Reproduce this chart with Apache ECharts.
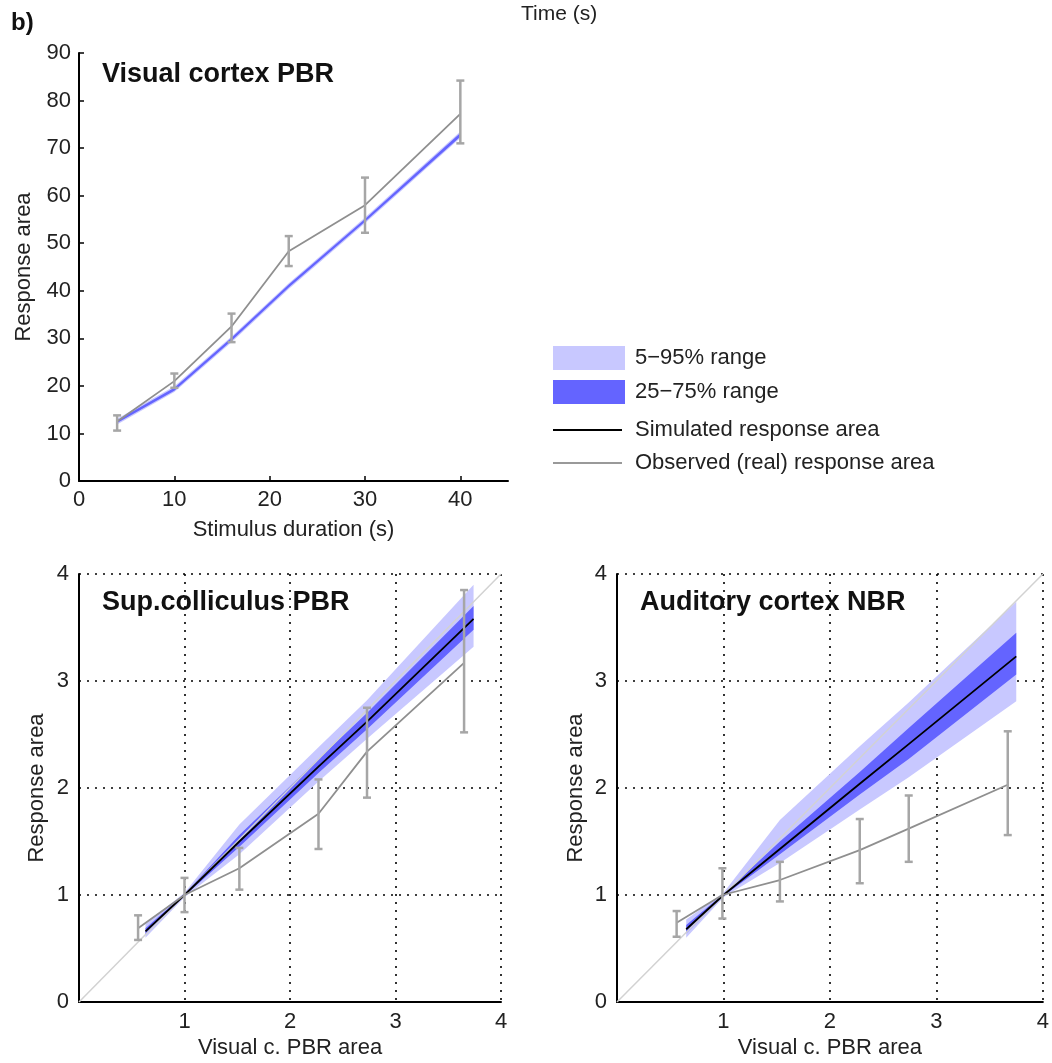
<!DOCTYPE html>
<html>
<head>
<meta charset="utf-8">
<script src="https://cdn.jsdelivr.net/npm/echarts@6/dist/echarts.min.js"></script>
<style>
    html, body { margin: 0; padding: 0; background: #fff; }
    #chart { width: 1052px; height: 1063px; }
</style>
</head>
<body>
<div id="chart"></div>
<script type="text/javascript">
    // 上图：视觉皮层 PBR
    var topX = [4, 10, 16, 22, 30, 40];
    var topObs = [12.5, 21, 32.5, 48.3, 58, 77.2];
    var topObsLo = [10.6, 19.6, 29.2, 45.2, 52.2, 71];
    var topObsHi = [13.8, 22.6, 35.2, 51.5, 63.8, 84.2];
    var topLightLo = [11.9, 18.7, 29.2, 40.4, 54.2, 72.1];
    var topLightHi = [13.1, 19.9, 30.4, 41.6, 55.4, 73.5];
    var topDarkLo = [12.2, 19.0, 29.5, 40.7, 54.5, 72.4];
    var topDarkHi = [12.8, 19.6, 30.1, 41.3, 55.1, 73.2];

    // 左下：上丘 PBR
    var scObsX = [0.56, 1.0, 1.52, 2.27, 2.73, 3.65];
    var scObs = [0.69, 1.0, 1.25, 1.76, 2.34, 3.17];
    var scObsLo = [0.58, 0.84, 1.05, 1.43, 1.91, 2.52];
    var scObsHi = [0.81, 1.16, 1.44, 2.08, 2.75, 3.85];
    var scSimX = [0.63, 1.0, 1.52, 2.27, 2.73, 3.74];
    var scSim = [0.66, 1.0, 1.5, 2.2, 2.62, 3.58];
    var scLightLo = [0.6, 0.98, 1.38, 2.06, 2.46, 3.32];
    var scLightHi = [0.73, 1.02, 1.66, 2.38, 2.82, 3.9];
    var scDarkLo = [0.63, 0.99, 1.45, 2.14, 2.55, 3.48];
    var scDarkHi = [0.69, 1.01, 1.56, 2.27, 2.7, 3.7];

    // 右下：听觉皮层 NBR
    var acObsX = [0.56, 0.99, 1.53, 2.28, 2.74, 3.67];
    var acObs = [0.74, 1.0, 1.14, 1.42, 1.62, 2.03];
    var acObsLo = [0.61, 0.78, 0.94, 1.11, 1.31, 1.56];
    var acObsHi = [0.85, 1.25, 1.31, 1.71, 1.93, 2.53];
    var acSimX = [0.65, 1.0, 1.53, 2.28, 2.74, 3.75];
    var acSim = [0.68, 1.0, 1.43, 2.04, 2.41, 3.23];
    var acLightLo = [0.6, 0.98, 1.3, 1.8, 2.1, 2.81];
    var acLightHi = [0.77, 1.02, 1.7, 2.39, 2.8, 3.74];
    var acDarkLo = [0.64, 0.99, 1.38, 1.94, 2.27, 3.06];
    var acDarkHi = [0.72, 1.01, 1.5, 2.15, 2.56, 3.45];

    var diag = [[0, 0], [4, 4]];

    var FONT = "'Liberation Sans', Arial, sans-serif";
    var LIGHT = '#c8c8ff';
    var DARK = '#6464ff';
    var OBS = '#8f8f8f';
    var ERR = '#a6a6a6';

    function pairs(xs, ys) {
        return xs.map(function (x, i) { return [x, ys[i]]; });
    }

    // 置信带：用多边形画上下边界之间的区域
    function bandSeries(idx, xs, lo, hi, color) {
        return {
            type: 'custom', xAxisIndex: idx, yAxisIndex: idx, silent: true, z: 1,
            data: xs.map(function (x, i) { return [x, lo[i], hi[i]]; }),
            encode: { x: 0, y: [1, 2] },
            renderItem: function (params, api) {
                if (params.dataIndex !== 0) return null;
                var pts = [];
                for (var i = 0; i < xs.length; i++) pts.push(api.coord([xs[i], hi[i]]));
                for (var j = xs.length - 1; j >= 0; j--) pts.push(api.coord([xs[j], lo[j]]));
                return { type: 'polygon', shape: { points: pts }, style: { fill: color } };
            }
        };
    }

    // 误差棒
    function errSeries(idx, xs, lo, hi) {
        return {
            type: 'custom', xAxisIndex: idx, yAxisIndex: idx, silent: true, z: 5,
            data: xs.map(function (x, i) { return [x, lo[i], hi[i]]; }),
            encode: { x: 0, y: [1, 2] },
            renderItem: function (params, api) {
                var a = api.coord([api.value(0), api.value(1)]);
                var b = api.coord([api.value(0), api.value(2)]);
                var st = { stroke: ERR, lineWidth: 2.5 };
                return {
                    type: 'group', children: [
                        { type: 'line', shape: { x1: a[0], y1: a[1], x2: b[0], y2: b[1] }, style: st },
                        { type: 'line', shape: { x1: a[0] - 4, y1: a[1], x2: a[0] + 4, y2: a[1] }, style: st },
                        { type: 'line', shape: { x1: b[0] - 4, y1: b[1], x2: b[0] + 4, y2: b[1] }, style: st }
                    ]
                };
            }
        };
    }

    function lineSeries(idx, data, color, width, z) {
        return {
            type: 'line', xAxisIndex: idx, yAxisIndex: idx, data: data, symbol: 'none',
            silent: true, z: z, lineStyle: { color: color, width: width }
        };
    }

    var labelStyle = { color: '#222', fontSize: 22, fontFamily: FONT };
    var nameStyle = { color: '#222', fontSize: 22, fontFamily: FONT };
    var gridDots = { show: true, lineStyle: { color: '#000', width: 1.6, type: [2, 6] } };
    var axisSolid = { show: true, onZero: false, lineStyle: { color: '#000', width: 2 } };

    function bottomX(idx) {
        return {
            type: 'value', gridIndex: idx, min: 0, max: 4, interval: 1,
            name: 'Visual c. PBR area', nameLocation: 'middle', nameGap: 35, nameTextStyle: nameStyle,
            axisLine: axisSolid, axisTick: { show: false },
            axisLabel: Object.assign({ showMinLabel: false, margin: 9 }, labelStyle),
            splitLine: gridDots
        };
    }
    function bottomY(idx, gap) {
        return {
            type: 'value', gridIndex: idx, min: 0, max: 4, interval: 1,
            name: 'Response area', nameLocation: 'middle', nameGap: gap, nameTextStyle: nameStyle,
            axisLine: axisSolid, axisTick: { show: false },
            axisLabel: Object.assign({ margin: 10 }, labelStyle),
            splitLine: gridDots
        };
    }

    function legendRow(y, kind, text) {
        var items = [];
        if (kind === 'light' || kind === 'dark') {
            items.push({ type: 'rect', shape: { x: 553, y: y - 12, width: 72, height: 24 },
                style: { fill: kind === 'light' ? LIGHT : DARK } });
        } else {
            items.push({ type: 'line', shape: { x1: 553, y1: y, x2: 622, y2: y },
                style: { stroke: kind === 'sim' ? '#000' : '#999', lineWidth: 2 } });
        }
        items.push({ type: 'text', x: 635, y: y,
            style: { text: text, fill: '#222', font: '22px ' + FONT, textVerticalAlign: 'middle' } });
        return items;
    }

    var chart = echarts.init(document.getElementById('chart'));
    var option = {
        animation: false,
        backgroundColor: '#fff',
        grid: [
            { left: 79, top: 53, width: 429, height: 428 },
            { left: 79, top: 574, width: 422, height: 428 },
            { left: 617, top: 574, width: 426, height: 428 }
        ],
        xAxis: [
            {
                type: 'value', gridIndex: 0, min: 0, max: 45, interval: 10,
                name: 'Stimulus duration (s)', nameLocation: 'middle', nameGap: 38, nameTextStyle: nameStyle,
                axisLine: axisSolid, axisTick: { show: true, inside: true, length: 5, lineStyle: { color: '#000', width: 1.5 } },
                axisLabel: Object.assign({ showMaxLabel: false, margin: 8 }, labelStyle),
                splitLine: { show: false }
            },
            bottomX(1), bottomX(2)
        ],
        yAxis: [
            {
                type: 'value', gridIndex: 0, min: 0, max: 90, interval: 10,
                name: 'Response area', nameLocation: 'middle', nameGap: 44, nameTextStyle: nameStyle,
                axisLine: axisSolid, axisTick: { show: true, inside: true, length: 5, lineStyle: { color: '#000', width: 1.5 } },
                axisLabel: Object.assign({ margin: 8 }, labelStyle),
                splitLine: { show: false }
            },
            bottomY(1, 31), bottomY(2, 30)
        ],
        series: [
            bandSeries(0, topX, topLightLo, topLightHi, LIGHT),
            bandSeries(0, topX, topDarkLo, topDarkHi, DARK),
            lineSeries(0, pairs(topX, topObs), OBS, 1.8, 4),
            errSeries(0, topX, topObsLo, topObsHi),

            lineSeries(1, diag, '#d2d2d2', 1.5, 2),
            bandSeries(1, scSimX, scLightLo, scLightHi, LIGHT),
            bandSeries(1, scSimX, scDarkLo, scDarkHi, DARK),
            lineSeries(1, pairs(scSimX, scSim), '#000', 1.8, 3),
            lineSeries(1, pairs(scObsX, scObs), OBS, 1.8, 4),
            errSeries(1, scObsX, scObsLo, scObsHi),

            lineSeries(2, diag, '#d2d2d2', 1.5, 2),
            bandSeries(2, acSimX, acLightLo, acLightHi, LIGHT),
            bandSeries(2, acSimX, acDarkLo, acDarkHi, DARK),
            lineSeries(2, pairs(acSimX, acSim), '#000', 1.8, 3),
            lineSeries(2, pairs(acObsX, acObs), OBS, 1.8, 4),
            errSeries(2, acObsX, acObsLo, acObsHi)
        ],
        graphic: [
            { type: 'text', x: 11, y: 23, style: { text: 'b)', fill: '#111', font: 'bold 24px ' + FONT, textVerticalAlign: 'middle' } },
            { type: 'text', x: 521, y: 14, style: { text: 'Time (s)', fill: '#222', font: '21px ' + FONT, textVerticalAlign: 'middle' } },
            { type: 'text', x: 102, y: 75, style: { text: 'Visual cortex PBR', fill: '#111', font: 'bold 27px ' + FONT, textVerticalAlign: 'middle' } },
            { type: 'text', x: 102, y: 603, style: { text: 'Sup.colliculus PBR', fill: '#111', font: 'bold 27px ' + FONT, textVerticalAlign: 'middle' } },
            { type: 'text', x: 640, y: 603, style: { text: 'Auditory cortex NBR', fill: '#111', font: 'bold 27px ' + FONT, textVerticalAlign: 'middle' } }
        ].concat(
            legendRow(358, 'light', '5\u221295% range'),
            legendRow(392, 'dark', '25\u221275% range'),
            legendRow(430, 'sim', 'Simulated response area'),
            legendRow(463, 'obs', 'Observed (real) response area')
        )
    };
    chart.setOption(option, true);
</script>
</body>
</html>
